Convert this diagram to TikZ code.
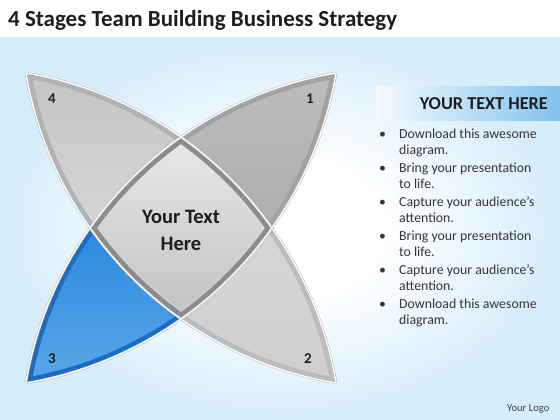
\documentclass[tikz,border=0pt]{standalone}
\usepackage{fontspec}
\setmainfont{Carlito}
\definecolor{bgblue}{RGB}{214,237,251}
\definecolor{p4top}{RGB}{196,196,196}
\definecolor{p4bot}{RGB}{214,214,214}
\definecolor{p4rim}{RGB}{178,178,178}
\definecolor{p1top}{RGB}{190,190,190}
\definecolor{p1bot}{RGB}{172,172,172}
\definecolor{p1rim}{RGB}{162,162,162}
\definecolor{p2top}{RGB}{214,214,214}
\definecolor{p2bot}{RGB}{206,206,206}
\definecolor{p2rim}{RGB}{188,188,188}
\definecolor{p3top}{RGB}{40,136,222}
\definecolor{p3bot}{RGB}{92,168,232}
\definecolor{p3rim}{RGB}{28,108,196}
\definecolor{dtop}{RGB}{234,234,234}
\definecolor{dbot}{RGB}{192,192,192}
\definecolor{drim}{RGB}{140,140,140}
\definecolor{bannerr}{RGB}{128,194,240}
\definecolor{bannerl}{RGB}{244,250,254}
\definecolor{txt}{RGB}{30,30,30}
\pgfdeclareradialshading{bgrad}{\pgfpoint{0bp}{0bp}}{color(0bp)=(white); color(9bp)=(white); color(25bp)=(bgblue); color(50bp)=(bgblue)}
\tikzset{
  rimline/.style={line width=11pt},
  outl/.style={draw=gray!55, line width=0.5pt, double=white, double distance=1.3pt},
  numf/.style={font=\bfseries\fontsize{15}{18}\selectfont, text=txt, inner sep=0pt},
  bul/.style={font=\fontsize{13.8}{16}\selectfont, text=txt!90, anchor=base west, inner sep=0pt}
}
\def\R{379.1}
\begin{document}
\begin{tikzpicture}[x=1pt,y=-1pt]
\useasboundingbox (0,0) rectangle (560,420);
\fill[white] (0,0) rectangle (560,420);
\shade[shading=bgrad] (0,38) rectangle (560,420);
\coordinate (Ca1) at (-37.7,446.7);
\coordinate (Ca2) at (399.7,9.3);
\coordinate (Cb1) at (399.7,446.7);
\coordinate (Cb2) at (-37.7,9.3);
% lens A (4 and 2)
\begin{scope}
  \clip (Ca1) circle[radius=\R];
  \clip (Ca2) circle[radius=\R];
  \begin{scope}
    \clip (-100,-100) -- (509,-100) -- (-100,509) -- cycle;
    \shade[top color=p4top, bottom color=p4bot] (20,65) rectangle (190,240);
    \draw[rimline, draw=p4rim] (Ca1) circle[radius=\R] (Ca2) circle[radius=\R];
  \end{scope}
  \begin{scope}
    \clip (509,-100) -- (700,-100) -- (700,700) -- (-100,700) -- (-100,509) -- cycle;
    \shade[top color=p2top, bottom color=p2bot] (175,220) rectangle (345,390);
    \draw[rimline, draw=p2rim] (Ca1) circle[radius=\R] (Ca2) circle[radius=\R];
  \end{scope}
\end{scope}
% lens B (1 and 3)
\begin{scope}
  \clip (Cb1) circle[radius=\R];
  \clip (Cb2) circle[radius=\R];
  \begin{scope}
    \clip (-100,-53) -- (-100,-100) -- (700,-100) -- (700,747) -- cycle;
    \shade[top color=p1top, bottom color=p1bot] (175,65) rectangle (345,240);
    \draw[rimline, draw=p1rim] (Cb1) circle[radius=\R] (Cb2) circle[radius=\R];
  \end{scope}
  \begin{scope}
    \clip (-100,-53) -- (700,747) -- (-100,747) -- cycle;
    \shade[top color=p3top, bottom color=p3bot] (20,220) rectangle (190,390);
    \draw[rimline, draw=p3rim] (Cb1) circle[radius=\R] (Cb2) circle[radius=\R];
  \end{scope}
\end{scope}
% central diamond
\begin{scope}
  \clip (Ca1) circle[radius=\R];
  \clip (Ca2) circle[radius=\R];
  \clip (Cb1) circle[radius=\R];
  \clip (Cb2) circle[radius=\R];
  \shade[top color=dtop, bottom color=dbot] (85,130) rectangle (280,325);
  \draw[line width=12pt, draw=drim] (Ca1) circle[radius=\R] (Ca2) circle[radius=\R]
     (Cb1) circle[radius=\R] (Cb2) circle[radius=\R];
  \draw[line width=13.5pt, draw=white, opacity=0.35] (Ca1) circle[radius=\R] (Ca2) circle[radius=\R]
     (Cb1) circle[radius=\R] (Cb2) circle[radius=\R];
  \draw[line width=11pt, draw=drim] (Ca1) circle[radius=\R] (Ca2) circle[radius=\R]
     (Cb1) circle[radius=\R] (Cb2) circle[radius=\R];
\end{scope}
% outlines
\begin{scope}\clip (Ca2) circle[radius=\R]; \draw[outl] (Ca1) circle[radius=\R];\end{scope}
\begin{scope}\clip (Ca1) circle[radius=\R]; \draw[outl] (Ca2) circle[radius=\R];\end{scope}
\begin{scope}\clip (Cb2) circle[radius=\R]; \draw[outl] (Cb1) circle[radius=\R];\end{scope}
\begin{scope}\clip (Cb1) circle[radius=\R]; \draw[outl] (Cb2) circle[radius=\R];\end{scope}
% labels
\node[numf] (n4) at (52,99) {4};
\node[numf] (n1) at (310,99) {1};
\node[numf] (n3) at (52,359) {3};
\node[numf] (n2) at (308,359) {2};
\node[align=center, font=\bfseries\fontsize{20.5}{27}\selectfont, text=txt] (ct) at (181,230) {Your Text\\Here};
% title
\node[anchor=base west, inner sep=0pt, font=\bfseries\fontsize{23}{27}\selectfont, text=txt] (title) at (8,27) {4 Stages Team Building Business Strategy};
% banner
\shade[left color=bannerl, right color=bannerr] (376,87) rectangle (560,120);
\node[anchor=base east, inner sep=0pt, font=\bfseries\fontsize{18.2}{22}\selectfont, text=txt] (bh) at (548,110) {YOUR TEXT HERE};
% bullets
\foreach \yy/\tt in {138/Download this awesome, 154/diagram., 172/Bring your presentation, 188/to life., 206/Capture your audience’s, 222/attention., 240/Bring your presentation, 256/to life., 274/Capture your audience’s, 290/attention., 308/Download this awesome, 324/diagram.}
  \node[bul] at (399,\yy) {\tt};
\foreach \yy in {138,172,206,240,274,308}
  \node[bul] at (379,\yy) {•};
\node[anchor=base west, inner sep=0pt, font=\fontsize{10.6}{12}\selectfont, text=txt!85] (logo) at (507,411) {Your Logo};
\end{tikzpicture}
\end{document}
